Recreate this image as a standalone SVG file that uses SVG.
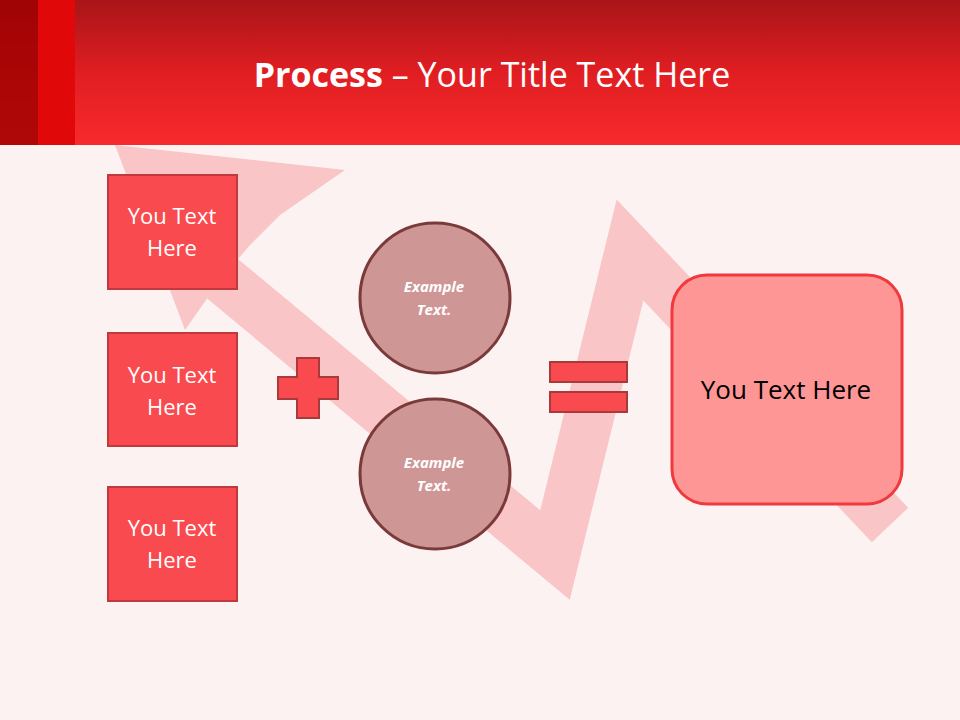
<svg xmlns="http://www.w3.org/2000/svg" width="960" height="720" viewBox="0 0 960 720">
<defs>
<linearGradient id="hd" x1="0" y1="0" x2="0" y2="1"><stop offset="0" stop-color="#a81518"/><stop offset="0.5" stop-color="#e01e22"/><stop offset="1" stop-color="#f72a2c"/></linearGradient>
<style>
.box{fill:#f94a4f;stroke:#c0393c;stroke-width:2}
.bt{font-family:"Open Sans",sans-serif;font-size:22px;fill:#fff;text-anchor:middle}
.circ{fill:#cf9696;stroke:#7a3a3a;stroke-width:3}
.ct{font-family:"Open Sans",sans-serif;font-size:15px;font-weight:bold;font-style:italic;fill:#fff;text-anchor:middle}
.op{fill:#f94a4f;stroke:#a83a3c;stroke-width:2}
</style>
</defs>
<rect width="960" height="720" fill="#fdf2f2"/>
<g id="bgarrow" fill="#f9c5c7">
<polyline points="200,260 555,555 630,250 890,525" fill="none" stroke="#f9c5c7" stroke-width="50" stroke-linejoin="miter"/>
<polygon points="115,145 345,170 280,215 250,245 220,280 185,330"/>
</g>
<rect width="960" height="145" fill="url(#hd)"/>
<rect width="38" height="145" fill="#9e0000" opacity="0.8"/>
<rect x="38" width="37" height="145" fill="#e00808"/>
<text x="492" y="87" font-family="'Open Sans',sans-serif" font-size="34" fill="#fff" text-anchor="middle"><tspan font-weight="bold">Process</tspan> – Your Title Text Here</text>
<g id="box1"><rect class="box" x="108" y="175" width="129" height="114"/><text class="bt" x="172" y="224">You Text</text><text class="bt" x="172" y="256">Here</text></g>
<g id="box2"><rect class="box" x="108" y="333" width="129" height="113"/><text class="bt" x="172" y="383">You Text</text><text class="bt" x="172" y="415">Here</text></g>
<g id="box3"><rect class="box" x="108" y="487" width="129" height="114"/><text class="bt" x="172" y="536">You Text</text><text class="bt" x="172" y="568">Here</text></g>
<g id="plus"><polygon class="op" points="297,358 319,358 319,377 338,377 338,399 319,399 319,418 297,418 297,399 278,399 278,377 297,377"/></g>
<g id="c1"><circle class="circ" cx="435" cy="298" r="75"/><text class="ct" x="434" y="292">Example</text><text class="ct" x="434" y="315">Text.</text></g>
<g id="c2"><circle class="circ" cx="435" cy="474" r="75"/><text class="ct" x="434" y="468">Example</text><text class="ct" x="434" y="491">Text.</text></g>
<g id="equals"><rect class="op" x="550" y="362" width="77" height="20"/><rect class="op" x="550" y="392" width="77" height="20"/></g>
<g id="result"><rect x="672" y="275" width="230" height="229" rx="35" fill="#fe9696" stroke="#f0393c" stroke-width="3"/><text x="786" y="399" font-family="'Open Sans',sans-serif" font-size="26" fill="#000" text-anchor="middle">You Text Here</text></g>
<g id="connectors"/>
</svg>
